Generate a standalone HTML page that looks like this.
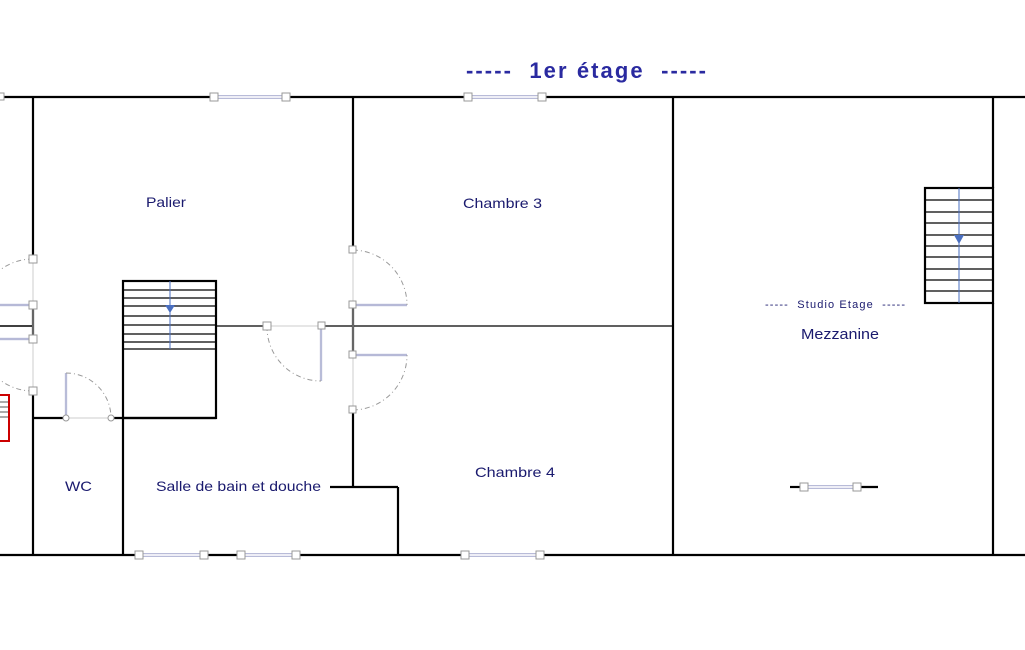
<!DOCTYPE html>
<html><head><meta charset="utf-8"><style>
html,body{margin:0;padding:0;background:#fff;}
svg{display:block;}
text{font-family:"Liberation Sans",sans-serif;fill:#1a1a6e;}
</style></head><body>
<svg width="1025" height="650" viewBox="0 0 1025 650" xmlns="http://www.w3.org/2000/svg">
<rect width="1025" height="650" fill="#fff"/>
<text x="466" y="78" font-size="22" textLength="240" lengthAdjust="spacing" style="fill:#2a2aa0;font-weight:bold">----- &#160;1er étage &#160;-----</text>
<g stroke="#000" stroke-width="2.2" fill="none">
<line x1="0" y1="97" x2="213" y2="97"/><line x1="287" y1="97" x2="467" y2="97"/><line x1="543" y1="97" x2="1025" y2="97"/>
<line x1="0" y1="555" x2="138" y2="555"/><line x1="206" y1="555" x2="241" y2="555"/><line x1="297" y1="555" x2="465" y2="555"/><line x1="541" y1="555" x2="1025" y2="555"/>
<line x1="33" y1="97" x2="33" y2="259"/><line x1="33" y1="305" x2="33" y2="339"/><line x1="33" y1="391" x2="33" y2="555"/>
<line x1="0" y1="326" x2="33" y2="326" stroke-width="1.6"/>
<line x1="33" y1="418" x2="66" y2="418"/><line x1="111" y1="418" x2="216" y2="418"/>
<line x1="123" y1="418" x2="123" y2="555"/>
<rect x="123" y="281" width="93" height="137"/>
<line x1="353" y1="97" x2="353" y2="250"/><line x1="353" y1="305" x2="353" y2="355"/><line x1="353" y1="410" x2="353" y2="487"/>
<line x1="330" y1="487" x2="398" y2="487"/><line x1="398" y1="487" x2="398" y2="555"/>
<line x1="673" y1="97" x2="673" y2="555"/>
<line x1="993" y1="97" x2="993" y2="188"/><line x1="993" y1="303" x2="993" y2="555"/>
<rect x="925" y="188" width="68" height="115"/>
<line x1="790" y1="487" x2="804" y2="487"/><line x1="858" y1="487" x2="878" y2="487"/>
</g>
<g stroke="#000" stroke-width="1.3">
<line x1="216" y1="326" x2="267" y2="326"/><line x1="321" y1="326" x2="673" y2="326"/>
<line x1="123" y1="290" x2="216" y2="290"/><line x1="123" y1="298" x2="216" y2="298"/><line x1="123" y1="306" x2="216" y2="306"/><line x1="123" y1="316" x2="216" y2="316"/><line x1="123" y1="325" x2="216" y2="325"/><line x1="123" y1="334" x2="216" y2="334"/><line x1="123" y1="342" x2="216" y2="342"/><line x1="123" y1="349" x2="216" y2="349"/>
<line x1="925" y1="200" x2="993" y2="200"/><line x1="925" y1="212" x2="993" y2="212"/><line x1="925" y1="223" x2="993" y2="223"/><line x1="925" y1="235" x2="993" y2="235"/><line x1="925" y1="246" x2="993" y2="246"/><line x1="925" y1="257" x2="993" y2="257"/><line x1="925" y1="269" x2="993" y2="269"/><line x1="925" y1="280" x2="993" y2="280"/><line x1="925" y1="291" x2="993" y2="291"/>
</g>
<g stroke="#4a6fc0" stroke-width="1">
<line x1="170" y1="281" x2="170" y2="349"/><line x1="959" y1="188" x2="959" y2="303"/>
</g>
<polygon points="165,305 175,305 170,313" fill="#4a6fc0"/>
<polygon points="954,235 964,235 959,244" fill="#4a6fc0"/>
<rect x="-1" y="395" width="10" height="46" fill="none" stroke="#c00" stroke-width="2"/>
<g stroke="#555" stroke-width="1"><line x1="0" y1="402" x2="8" y2="402"/><line x1="0" y1="407" x2="8" y2="407"/><line x1="0" y1="412" x2="8" y2="412"/><line x1="0" y1="417" x2="8" y2="417"/></g>
<g stroke="#ccc" stroke-width="1">
<line x1="33" y1="259" x2="33" y2="391"/><line x1="353" y1="250" x2="353" y2="410"/>
<line x1="267" y1="326" x2="321" y2="326"/><line x1="66" y1="418" x2="111" y2="418"/>
</g>
<g stroke="#8a8fbf" stroke-width="2.2" fill="none">
<line x1="0" y1="305" x2="31" y2="305"/><line x1="0" y1="339" x2="31" y2="339"/>
<line x1="355" y1="305" x2="407" y2="305"/><line x1="355" y1="355" x2="407" y2="355"/>
<line x1="321" y1="326" x2="321" y2="381"/><line x1="66" y1="373" x2="66" y2="418"/>
</g>
<g stroke="#fff" stroke-width="0.8" fill="none">
<line x1="0" y1="305" x2="31" y2="305"/><line x1="0" y1="339" x2="31" y2="339"/>
<line x1="355" y1="305" x2="407" y2="305"/><line x1="355" y1="355" x2="407" y2="355"/>
<line x1="321" y1="326" x2="321" y2="381"/><line x1="66" y1="373" x2="66" y2="418"/>
</g>
<g stroke="#999" stroke-width="1" stroke-dasharray="5,3,1,3" fill="none">
<path d="M33,259 A54,54 0 0 0 -10,280"/>
<path d="M33,391 A54,54 0 0 1 -10,370"/>
<path d="M353,250 A55,55 0 0 1 407,305"/>
<path d="M353,410 A55,55 0 0 0 407,355"/>
<path d="M267,326 A54,54 0 0 0 321,381"/>
<path d="M66,373 A45,45 0 0 1 111,418"/>
</g>
<g stroke="#b8bbd8" stroke-width="4" fill="none">
<line x1="213" y1="97" x2="287" y2="97"/><line x1="467" y1="97" x2="543" y2="97"/>
<line x1="138" y1="555" x2="206" y2="555"/><line x1="241" y1="555" x2="297" y2="555"/><line x1="465" y1="555" x2="541" y2="555"/>
<line x1="804" y1="487" x2="858" y2="487"/>
</g>
<g stroke="#fff" stroke-width="1.5">
<line x1="213" y1="97" x2="287" y2="97"/><line x1="467" y1="97" x2="543" y2="97"/>
<line x1="138" y1="555" x2="206" y2="555"/><line x1="241" y1="555" x2="297" y2="555"/><line x1="465" y1="555" x2="541" y2="555"/>
<line x1="804" y1="487" x2="858" y2="487"/>
</g>
<g fill="#fff" stroke="#999" stroke-width="1">
<rect x="-3" y="93" width="7" height="7"/>
<rect x="210" y="93" width="8" height="8"/><rect x="282" y="93" width="8" height="8"/>
<rect x="464" y="93" width="8" height="8"/><rect x="538" y="93" width="8" height="8"/>
<rect x="135" y="551" width="8" height="8"/><rect x="200" y="551" width="8" height="8"/>
<rect x="237" y="551" width="8" height="8"/><rect x="292" y="551" width="8" height="8"/>
<rect x="461" y="551" width="8" height="8"/><rect x="536" y="551" width="8" height="8"/>
<rect x="800" y="483" width="8" height="8"/><rect x="853" y="483" width="8" height="8"/>
<rect x="29" y="255" width="8" height="8"/><rect x="29" y="301" width="8" height="8"/><rect x="29" y="335" width="8" height="8"/><rect x="29" y="387" width="8" height="8"/>
<rect x="349" y="246" width="7" height="7"/><rect x="349" y="301" width="7" height="7"/><rect x="349" y="351" width="7" height="7"/><rect x="349" y="406" width="7" height="7"/>
<rect x="263" y="322" width="8" height="8"/><rect x="318" y="322" width="7" height="7"/>
<circle cx="66" cy="418" r="3"/><circle cx="111" cy="418" r="3"/>
</g>
<text x="146" y="207" font-size="14" textLength="40" lengthAdjust="spacingAndGlyphs">Palier</text>
<text x="463" y="208" font-size="14" textLength="79" lengthAdjust="spacingAndGlyphs">Chambre 3</text>
<text x="475" y="477" font-size="14" textLength="80" lengthAdjust="spacingAndGlyphs">Chambre 4</text>
<text x="65" y="491" font-size="14" textLength="27" lengthAdjust="spacingAndGlyphs">WC</text>
<text x="156" y="491" font-size="14" textLength="165" lengthAdjust="spacingAndGlyphs">Salle de bain et douche</text>
<text x="765" y="308" font-size="11" textLength="140" lengthAdjust="spacing">----- &#160;Studio Etage &#160;-----</text>
<text x="801" y="339" font-size="15" textLength="78" lengthAdjust="spacingAndGlyphs">Mezzanine</text>
</svg>
</body></html>
